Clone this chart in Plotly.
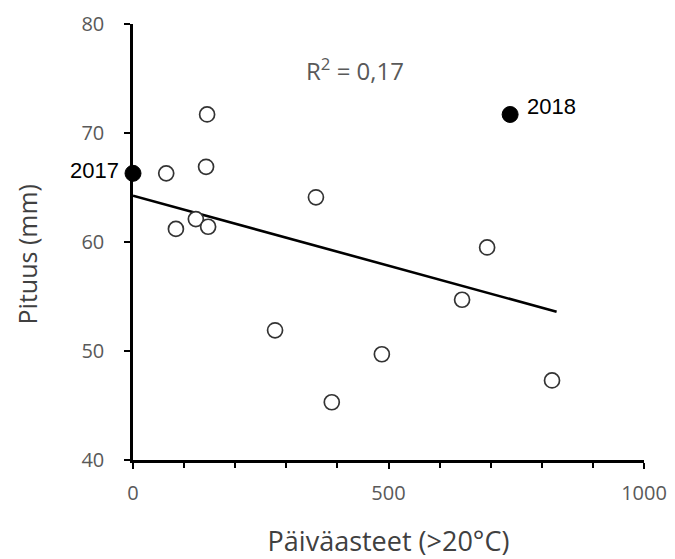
import plotly.graph_objects as go

# Data
open_x = [65, 84, 123, 145, 143, 147, 278, 358, 389, 487, 644, 693, 820]
open_y = [66.3, 61.2, 62.1, 71.7, 66.9, 61.4, 51.9, 64.1, 45.3, 49.7, 54.7, 59.5, 47.3]
filled_x = [0, 738]
filled_y = [66.3, 71.7]
filled_labels = ["2017", "2018"]
trend_x = [0, 829]
trend_y = [64.25, 53.6]
r2_text = "R<sup>2</sup> = 0,17"
x_ticks = [0, 500, 1000]
y_ticks = [40, 50, 60, 70, 80]
x_title = "Päiväasteet (>20°C)"
y_title = "Pituus (mm)"

fig = go.Figure()
fig.add_trace(go.Scatter(x=trend_x, y=trend_y, mode="lines",
                         line=dict(color="black", width=2.6), hoverinfo="skip",
                         cliponaxis=False))
fig.add_trace(go.Scatter(x=open_x, y=open_y, mode="markers", cliponaxis=False,
                         marker=dict(symbol="circle", size=15, color="white",
                                     line=dict(color="#333333", width=1.7))))
fig.add_trace(go.Scatter(x=filled_x, y=filled_y, mode="markers", cliponaxis=False,
                         marker=dict(symbol="circle", size=16, color="black",
                                     line=dict(color="black", width=1))))

fig.add_annotation(x=filled_x[0], y=filled_y[0], text=filled_labels[0], showarrow=False,
                   xanchor="right", xshift=-12, yshift=3,
                   font=dict(family="Liberation Sans", size=22, color="black"))
fig.add_annotation(x=filled_x[1], y=filled_y[1], text=filled_labels[1], showarrow=False,
                   xanchor="left", xshift=15, yshift=8,
                   font=dict(family="Liberation Sans", size=22, color="black"))
fig.add_annotation(x=434, y=75.8, text=r2_text, showarrow=False,
                   font=dict(family="Open Sans", size=24, color="#595959"))
fig.add_annotation(xref="paper", yref="paper", x=-0.207, y=0.472, text=y_title,
                   showarrow=False, textangle=-90, xanchor="center", yanchor="middle",
                   borderpad=0,
                   font=dict(family="Open Sans", size=25, color="#404040"))

fig.update_layout(
    width=667, height=551,
    margin=dict(l=125, r=31, t=16, b=99),
    plot_bgcolor="white", paper_bgcolor="white",
    showlegend=False,
    font=dict(family="Open Sans", color="#595959"),
)
fig.update_xaxes(range=[0, 1000], showgrid=False, zeroline=False, automargin=False,
                 showline=True, linecolor="black", linewidth=2.5,
                 ticks="outside", tickcolor="black", tickwidth=2, ticklen=6,
                 tickvals=x_ticks,
                 minor=dict(dtick=100, tick0=0, ticks="outside", ticklen=5,
                            tickwidth=2, tickcolor="black", showgrid=False),
                 tickfont=dict(size=20, color="#595959"), ticklabelstandoff=7,
                 title=dict(text=x_title, font=dict(size=27, color="#404040"), standoff=31))
fig.update_yaxes(range=[40, 80], showgrid=False, zeroline=False, automargin=False,
                 showline=True, linecolor="black", linewidth=2.5,
                 ticks="outside", tickcolor="black", tickwidth=2, ticklen=6,
                 tickvals=y_ticks,
                 tickfont=dict(size=20, color="#595959"), ticklabelstandoff=16)

fig.write_html("out.html")
